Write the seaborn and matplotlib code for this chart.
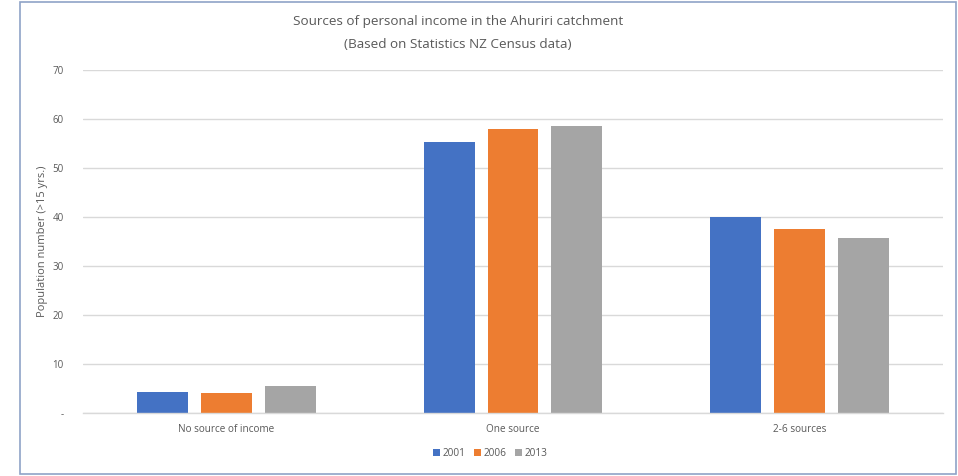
import matplotlib
matplotlib.use("Agg")
import matplotlib.pyplot as plt
import seaborn as sns
import pandas as pd
from matplotlib.patches import Rectangle

categories = ["No source of income", "One source", "2-6 sources"]
years = ["2001", "2006", "2013"]
values_2001 = [4.3, 55.3, 40.0]
values_2006 = [4.1, 58.0, 37.6]
values_2013 = [5.5, 58.6, 35.8]
colors = ["#4472C4", "#ED7D31", "#A5A5A5"]
ytick_values = [0, 10, 20, 30, 40, 50, 60, 70]
ytick_labels = ["-", "10", "20", "30", "40", "50", "60", "70"]

rows = []
for yr, vals in zip(years, [values_2001, values_2006, values_2013]):
    for c, v in zip(categories, vals):
        rows.append({"Category": c, "Year": yr, "Value": v})
df = pd.DataFrame(rows)

sns.set_theme(style="white")
plt.rcParams['font.family'] = ['Open Sans', 'DejaVu Sans']
text_color = "#595959"

L, R = 83, 943
fig = plt.figure(figsize=(9.58, 4.76), dpi=100)
ax = fig.add_axes([L/958, 1-413/476, (R-L)/958, (413-70)/476])

sns.barplot(data=df, x="Category", y="Value", hue="Year", order=categories,
            hue_order=years, palette=colors, width=0.667, gap=0.2,
            saturation=1, linewidth=0, ax=ax, legend=True)

ax.set_ylim(0, 70)
ax.set_xlim(-0.5, 2.5)
ax.set_yticks(ytick_values)
ax.set_yticklabels(ytick_labels)
ax.yaxis.grid(True, color="#D9D9D9", linewidth=1)
ax.set_axisbelow(True)
for s in ["top", "right", "left"]:
    ax.spines[s].set_visible(False)
ax.spines["bottom"].set_color("#D9D9D9")
ax.spines["bottom"].set_linewidth(1)
ax.tick_params(axis="both", length=0, colors=text_color)
ax.tick_params(axis="y", labelsize=7, pad=14)
ax.tick_params(axis="x", labelsize=7.2, pad=8)
ax.set_xlabel("")
ax.set_ylabel("Population number (>15 yrs.)", fontsize=8, color=text_color, labelpad=3)

fig.text(0.478, 1-22/476, "Sources of personal income in the Ahuriri catchment",
         ha="center", va="center", fontsize=9.7, color=text_color)
fig.text(0.478, 1-45/476, "(Based on Statistics NZ Census data)",
         ha="center", va="center", fontsize=9.7, color=text_color)

handles, labels = ax.get_legend_handles_labels()
ax.legend(handles, labels, loc="center", bbox_to_anchor=((490-L)/(R-L), -(453-413)/343),
          ncol=3, frameon=False, fontsize=7.2, handlelength=0.7, handleheight=0.7,
          handletextpad=0.3, columnspacing=0.8, labelcolor=text_color)

fig.patches.append(Rectangle((20/958, 2/476), 936/958, 472/476, transform=fig.transFigure,
                             fill=False, edgecolor="#8FA3C7", linewidth=1.2))

fig.savefig("out.png", dpi=100, facecolor="white")
